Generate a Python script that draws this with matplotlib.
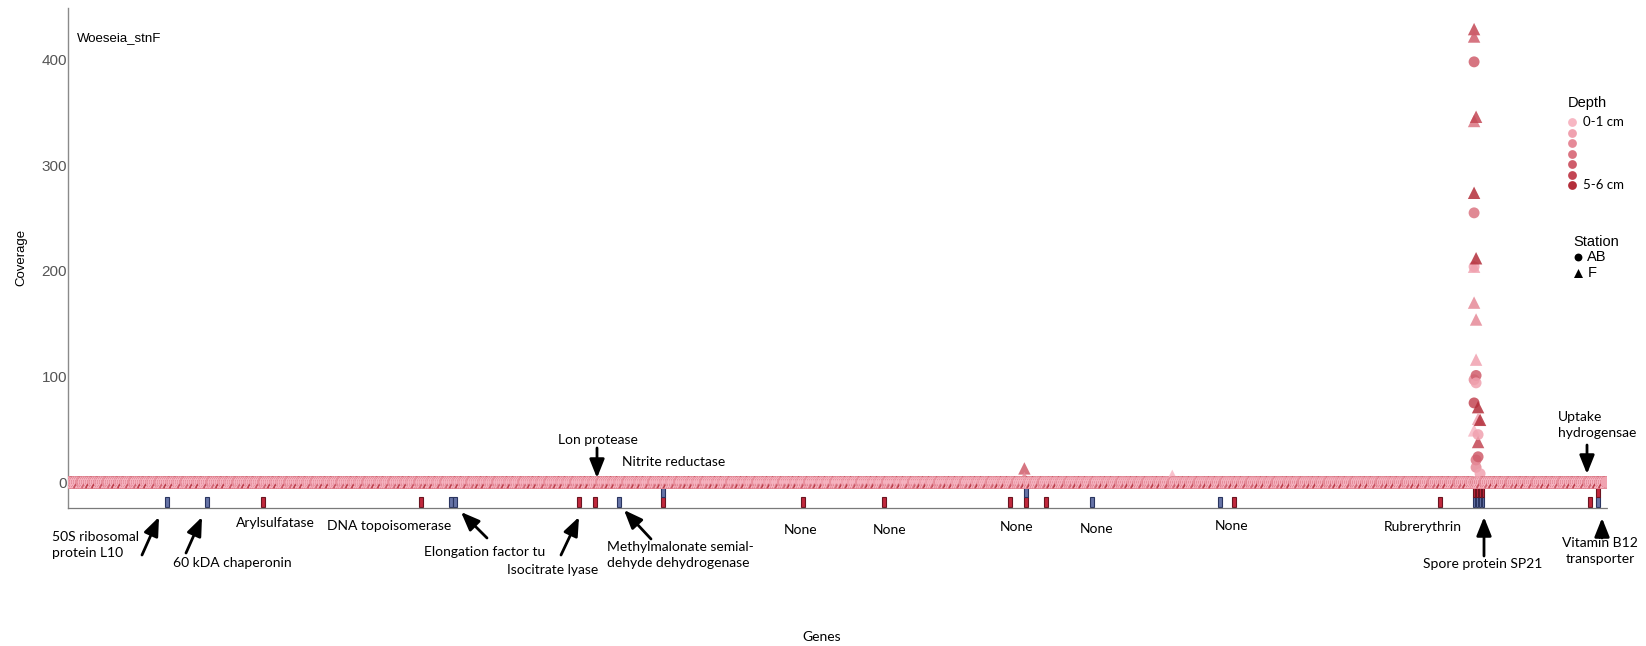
import numpy as np
import matplotlib
matplotlib.use("Agg")
import matplotlib.pyplot as plt
from matplotlib.markers import MarkerStyle

# ---------------- data ----------------
n_genes = 770
depth_labels = ["0-1 cm", "", "", "", "", "", "5-6 cm"]
depth_colors = ["#f7b7c3", "#f0a1af", "#e68a98", "#db7482", "#cf5d6b", "#c34654", "#b32e3a"]
stations = ["AB", "F"]

# genes with coverage above the baseline (rows: genes, columns: depth 0-1 cm ... 5-6 cm)
spike_genes = [704, 705, 706, 707]
ab_spike = [
    [0, 204, 97, 255, 398, 75, 0],
    [0, 94, 14, 21, 101, 0, 0],
    [0, 45, 0, 0, 24, 0, 0],
    [0, 8, 0, 0, 0, 0, 0],
]
f_spike = [
    [49, 204, 170, 342, 422, 429, 274],
    [0, 116, 154, 0, 0, 346, 212],
    [0, 60, 0, 0, 0, 38, 71],
    [0, 0, 0, 0, 0, 0, 59],
]
bump_genes = [479, 553]
f_bump = [
    [0, 0, 4, 0, 13, 0, 0],
    [6, 0, 0, 0, 0, 0, 0],
]

# flagged genes shown as a track under the coverage strip
flag_genes = [50, 70, 98, 177, 192, 194, 256, 264, 276, 298, 368, 409, 472, 480, 490,
              513, 577, 584, 687, 704, 705.5, 707, 708.5, 762, 766]
flag_lower = ["b", "b", "r", "r", "b", "b", "r", "r", "b", "r", "r", "r", "r", "r", "r",
              "b", "b", "r", "r", "b", "b", "b", "b", "r", "b"]
flag_upper = ["", "", "", "", "", "", "", "", "", "b", "", "", "", "b", "",
              "", "", "", "", "r", "r", "r", "r", "", "r"]

# sample drawn last for successive genes (sets which marker sits on top in the dense strip)
top_cycle = [("AB", 0), ("F", 6), ("AB", 1), ("F", 0), ("AB", 0), ("F", 5), ("AB", 2),
             ("F", 1), ("AB", 0), ("F", 4), ("AB", 0), ("F", 6), ("AB", 1)]

# ---------------- figure ----------------
W, H = 1646, 646
fig = plt.figure(figsize=(W / 100, H / 100), dpi=100)
ax = fig.add_axes([68 / W, 1 - 508 / H, (1607 - 68) / W, (508 - 8) / H])

cov = {"AB": np.zeros((n_genes, 7)), "F": np.zeros((n_genes, 7))}
for g, row in zip(spike_genes, ab_spike):
    cov["AB"][g - 1] = row
for g, row in zip(spike_genes, f_spike):
    cov["F"][g - 1] = row
for g, row in zip(bump_genes, f_bump):
    cov["F"][g - 1] = row


def marker_path(m):
    ms = MarkerStyle(m)
    return ms.get_path().transformed(ms.get_transform())


shape = {"AB": marker_path("o"), "F": marker_path("^")}
size = {"AB": 62, "F": 80}

base_order = [("F", d) for d in range(6, -1, -1)] + [("AB", d) for d in range(6, -1, -1)]
xs, ys, cols, paths, sizes = [], [], [], [], []
for gi in range(n_genes):
    top = top_cycle[gi % len(top_cycle)]
    order = [s for s in base_order if s != top] + [top]
    for st, d in order:
        xs.append(gi + 1)
        ys.append(cov[st][gi, d])
        cols.append(depth_colors[d])
        paths.append(shape[st])
        sizes.append(size[st])

pts = ax.scatter(xs, ys, c=cols, s=sizes, alpha=0.85, linewidths=0, zorder=3, clip_on=True)
pts.set_paths(paths)

bar_fill = {"r": "#c0283c", "b": "#6673a6"}
bar_edge = {"r": "#6b1420", "b": "#2a3560"}
for g, lo, hi in zip(flag_genes, flag_lower, flag_upper):
    w = 1.4 if 703 < g < 710 else 2.0
    ax.bar(g, 9.5, bottom=-23.7, width=w, color=bar_fill[lo], edgecolor=bar_edge[lo],
           linewidth=0.8, zorder=2)
    if hi:
        ax.bar(g, 9.5, bottom=-14.2, width=w, color=bar_fill[hi], edgecolor=bar_edge[hi],
               linewidth=0.8, zorder=2)

ax.set_xlim(0.5, n_genes + 0.5)
ax.set_ylim(-24.5, 449)
ax.set_yticks([0, 100, 200, 300, 400])
ax.set_xticks([])
ax.tick_params(axis="y", length=0, pad=0.8, labelsize=11, labelcolor="#555555")
for lab in ax.get_yticklabels():
    lab.set_fontfamily("Liberation Sans")
for side in ["top", "right"]:
    ax.spines[side].set_visible(False)
ax.spines["left"].set_color("#8a8a8a")
ax.spines["left"].set_linewidth(1.0)
ax.spines["bottom"].set_color("#7a7a7a")
ax.spines["bottom"].set_linewidth(0.9)
ax.spines["bottom"].set_linestyle((0, (1, 1)))

# ---------------- overlay for labels, arrows and legend (pixel units) ----------------
ov = fig.add_axes([0, 0, 1, 1], zorder=5)
ov.set_xlim(0, W)
ov.set_ylim(H, 0)
ov.axis("off")
ov.patch.set_alpha(0)

sans = "Liberation Sans"
note = "Lato"
ov.text(77, 38, "Woeseia_stnF", fontsize=9.5, family=sans, va="center", ha="left")
ov.text(21, 257, "Coverage", fontsize=9.5, family=sans, rotation=90, va="center", ha="center")
ov.text(822, 637, "Genes", fontsize=10, family=note, va="center", ha="center")

labels = [
    (52, 545, "50S ribosomal\nprotein L10", "left"),
    (232, 563, "60 kDA chaperonin", "center"),
    (275, 523, "Arylsulfatase", "center"),
    (389, 526, "DNA topoisomerase", "center"),
    (485, 552, "Elongation factor tu", "center"),
    (598, 570, "Isocitrate lyase", "right"),
    (598, 440, "Lon protease", "center"),
    (674, 462, "Nitrite reductase", "center"),
    (607, 555, "Methylmalonate semial-\ndehyde dehydrogenase", "left"),
    (801, 530, "None", "center"),
    (890, 530, "None", "center"),
    (1017, 527, "None", "center"),
    (1097, 529, "None", "center"),
    (1232, 526, "None", "center"),
    (1423, 527, "Rubrerythrin", "center"),
    (1483, 564, "Spore protein SP21", "center"),
    (1558, 425, "Uptake\nhydrogensae", "left"),
    (1600, 551, "Vitamin B12\ntransporter", "center"),
]
for x, y, t, ha in labels:
    ov.text(x, y, t, fontsize=10, family=note, va="center", ha=ha, linespacing=1.35,
            multialignment="left" if ha == "left" else "center")

arrows = [
    ((142, 555), (159, 517)),
    ((186, 553), (202, 517)),
    ((487, 538), (461, 512)),
    ((561, 555), (579, 517)),
    ((597, 448), (597, 478)),
    ((651, 539), (624, 510)),
    ((1484, 556), (1484, 517)),
    ((1587, 445), (1587, 474)),
    ((1602, 538), (1602, 518)),
]
for tail, head in arrows:
    ov.annotate("", xy=head, xytext=tail,
                arrowprops=dict(arrowstyle="-|>,head_length=0.75,head_width=0.3",
                                color="black", lw=2.0, shrinkA=0, shrinkB=0,
                                mutation_scale=15))

# legend: depth
ov.text(1568, 103, "Depth", fontsize=10.5, family=sans, va="center", ha="left")
dy = [122, 132.5, 143, 153.5, 164, 174.5, 185]
for y, c, lab in zip(dy, depth_colors, depth_labels):
    ov.scatter([1572], [y], s=40, color=c, linewidths=0)
    if lab:
        ov.text(1583, y, lab, fontsize=9.5, family=note, va="center", ha="left")

# legend: station
ov.text(1573, 242, "Station", fontsize=10.5, family=sans, va="center", ha="left")
ov.scatter([1578], [257], s=32, marker="o", color="black", linewidths=0)
ov.text(1587, 257, "AB", fontsize=10.5, family=sans, va="center", ha="left")
ov.scatter([1578], [273], s=42, marker="^", color="black", linewidths=0)
ov.text(1588, 273, "F", fontsize=10.5, family=sans, va="center", ha="left")

fig.savefig("out.png", dpi=100)
